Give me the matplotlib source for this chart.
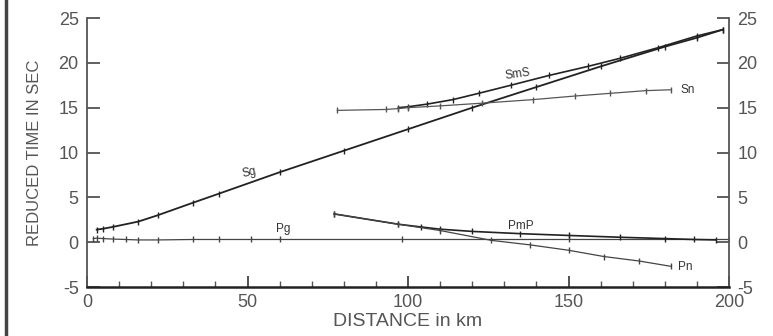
import matplotlib
matplotlib.use("Agg")
import matplotlib.pyplot as plt
from matplotlib.lines import Line2D
from matplotlib.ticker import MultipleLocator

plt.rcParams['font.family'] = ['Liberation Sans', 'DejaVu Sans']
plt.rcParams['axes.unicode_minus'] = False

# travel time branches, distance in km / reduced time in sec
sg_x = [3, 5, 8, 16, 22, 33, 41, 60, 80, 100, 120, 140, 160, 180, 190, 198]
sg_y = [1.4, 1.5, 1.7, 2.3, 3.0, 4.4, 5.4, 7.8, 10.2, 12.6, 15.0, 17.3, 19.6, 21.8, 22.8, 23.7]

pg_x = [2, 3, 5, 8, 12, 16, 22, 33, 41, 51, 60, 98, 150, 200]
pg_y = [0.4, 0.45, 0.4, 0.35, 0.3, 0.25, 0.25, 0.3, 0.3, 0.3, 0.3, 0.3, 0.3, 0.3]

sms_x = [97, 100, 106, 114, 122, 132, 144, 156, 166, 178, 190, 198]
sms_y = [15.0, 15.1, 15.4, 15.9, 16.6, 17.5, 18.6, 19.6, 20.5, 21.7, 23.0, 23.7]

sn_x = [78, 93, 97, 100, 110, 123, 139, 152, 163, 174, 182]
sn_y = [14.7, 14.8, 14.9, 15.0, 15.2, 15.5, 15.9, 16.3, 16.6, 16.9, 17.0]

pmp_x = [77, 97, 104, 110, 120, 135, 150, 166, 180, 189, 196]
pmp_y = [3.15, 2.0, 1.7, 1.45, 1.2, 0.95, 0.75, 0.55, 0.4, 0.3, 0.25]

pn_x = [77, 97, 110, 126, 138, 150, 161, 172, 182]
pn_y = [3.15, 2.0, 1.3, 0.2, -0.3, -0.9, -1.6, -2.1, -2.7]

fig = plt.figure(figsize=(7.73, 3.36), dpi=100)
ax = fig.add_axes([0.1126, 0.1458, 0.8305, 0.8006])

ax.plot(sg_x, sg_y, color='#222222', lw=1.3, marker='|', ms=4, mew=1)
ax.plot(pg_x, pg_y, color='#444444', lw=0.9, marker='|', ms=4, mew=1)
ax.plot(sms_x, sms_y, color='#222222', lw=1.2, marker='|', ms=4, mew=1)
ax.plot(sn_x, sn_y, color='#555555', lw=0.9, marker='|', ms=4, mew=1)
ax.plot(pmp_x, pmp_y, color='#222222', lw=1.2, marker='|', ms=4, mew=1)
ax.plot(pn_x, pn_y, color='#444444', lw=0.9, marker='|', ms=4, mew=1)

# branch names
lab_kw = dict(fontsize=8.5, color='#333333')
ax.text(48, 7.3, 'Sg', rotation=12, **lab_kw)
ax.text(59, 1.1, 'Pg', **lab_kw)
ax.text(130, 18.2, 'SmS', rotation=8, **lab_kw)
ax.text(185, 16.6, 'Sn', **lab_kw)
ax.text(131, 1.5, 'PmP', **lab_kw)
ax.text(184, -3.1, 'Pn', **lab_kw)

ax.set_xlim(0, 200)
ax.set_ylim(-5, 25)
ax.xaxis.set_major_locator(MultipleLocator(50))
ax.xaxis.set_minor_locator(MultipleLocator(10))
ax.yaxis.set_major_locator(MultipleLocator(5))

ax.spines['top'].set_visible(False)
for s in ['left', 'right', 'bottom']:
    ax.spines[s].set_color('#555555')
    ax.spines[s].set_linewidth(1.3)
ax.spines['bottom'].set_color('#222222')
ax.spines['bottom'].set_linewidth(1.8)

ax.tick_params(axis='y', which='major', direction='in', length=9, width=1.2,
               left=True, right=True, labelleft=True, labelright=True,
               labelsize=13, labelcolor='#555555', color='#444444', pad=6)
ax.tick_params(axis='x', which='major', direction='in', length=8, width=1.2,
               labelsize=13, labelcolor='#555555', color='#333333', pad=5)
ax.tick_params(axis='x', which='minor', direction='in', length=4, width=1,
               color='#555555')

ax.set_ylabel('REDUCED TIME IN SEC', fontsize=12, color='#555555', labelpad=12)
ax.set_xlabel('DISTANCE in km', fontsize=14, color='#555555', labelpad=1.5)

# dark border on the left edge of the scan
fig.add_artist(Line2D([0.008, 0.008], [0, 1], transform=fig.transFigure,
                      color='#444444', lw=2.5))

fig.savefig('out.png', dpi=100)
